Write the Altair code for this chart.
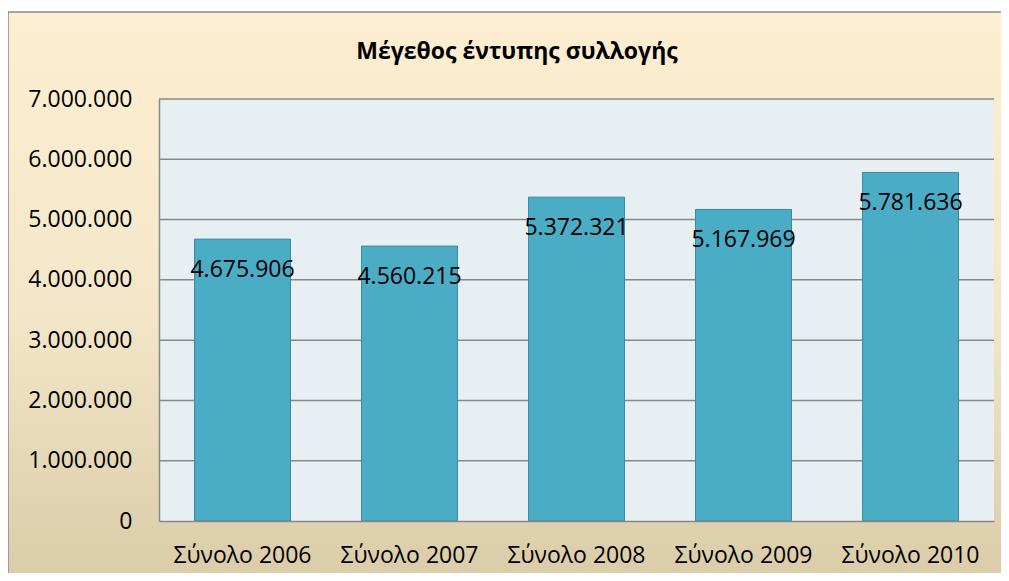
import altair as alt
import pandas as pd

categories = ["Σύνολο 2006", "Σύνολο 2007", "Σύνολο 2008", "Σύνολο 2009", "Σύνολο 2010"]
values = [4675906, 4560215, 5372321, 5167969, 5781636]
y_ticks = [0, 1000000, 2000000, 3000000, 4000000, 5000000, 6000000, 7000000]
title_text = ["Μέγεθος έντυπης συλλογής"]

W, H = 835, 422
FONT = "Open Sans"

df = pd.DataFrame({"cat": categories, "val": values})
grid_df = pd.DataFrame({"v": y_ticks[1:]})
one = pd.DataFrame({"a": [0]})
title_df = pd.DataFrame({"t": title_text})

yscale = alt.Scale(domain=[0, 7000000], nice=False)
xscale = alt.Scale(paddingInner=0.425, paddingOuter=0.2125)

fmt = "replace(format(datum.value, ','), /,/g, '.')"

bg = alt.Chart(one).mark_rect(
    fill=alt.Gradient(
        gradient="linear",
        stops=[alt.GradientStop(color="#fdeed1", offset=0),
               alt.GradientStop(color="#f4e7c9", offset=0.5),
               alt.GradientStop(color="#d8caa6", offset=1)],
        x1=0, x2=0, y1=0, y2=1),
    stroke="#8a8a8a", strokeWidth=1.5
).encode(x=alt.value(-151), x2=alt.value(W + 30), y=alt.value(-87), y2=alt.value(H + 80))

plot_bg = alt.Chart(one).mark_rect(fill="#e8eff3").encode(
    x=alt.value(0), x2=alt.value(W), y=alt.value(0), y2=alt.value(H))

grid = alt.Chart(grid_df).mark_rule(color="#888888", strokeWidth=1.5).encode(
    y=alt.Y("v:Q", scale=yscale), x=alt.value(0), x2=alt.value(W))

title = alt.Chart(title_df).mark_text(
    font=FONT, fontSize=23, fontWeight="bold", color="#000000",
    align="center", baseline="alphabetic"
).encode(text="t:N", x=alt.value(358), y=alt.value(-40))

base = alt.Chart(df)

bars = base.mark_bar(fill="#4bacc6", stroke="#3a8ba2", strokeWidth=1).encode(
    x=alt.X("cat:N", sort=categories, scale=xscale, title=None,
            axis=alt.Axis(labelAngle=0, labelFont=FONT, labelFontSize=23, labelColor="#000000",
                          labelPadding=23, ticks=False, tickSize=0, domainColor="#888888",
                          domainWidth=1.5, grid=False, zindex=1)),
    y=alt.Y("val:Q", scale=yscale, title=None,
            axis=alt.Axis(values=y_ticks, labelExpr=fmt, labelFont=FONT, labelFontSize=23,
                          labelColor="#000000", labelPadding=27, ticks=False, tickSize=0,
                          domainColor="#888888", domainWidth=1.5, grid=False, zindex=1)),
)

labels = base.transform_calculate(
    lbl="replace(format(datum.val, ','), /,/g, '.')"
).mark_text(font=FONT, fontSize=23, color="#000000", baseline="middle", dy=31).encode(
    x=alt.X("cat:N", sort=categories, scale=xscale),
    y=alt.Y("val:Q", scale=yscale),
    text="lbl:N",
)

chart = alt.layer(bg, plot_bg, grid, bars, labels, title).properties(
    width=W, height=H,
    autosize=alt.AutoSizeParams(type="none"),
    padding={"left": 151, "top": 91, "right": 7, "bottom": 52},
).configure_view(stroke=None).configure(background="#ffffff")

chart.save("out.html", embed_options={"renderer": "svg", "actions": False})
